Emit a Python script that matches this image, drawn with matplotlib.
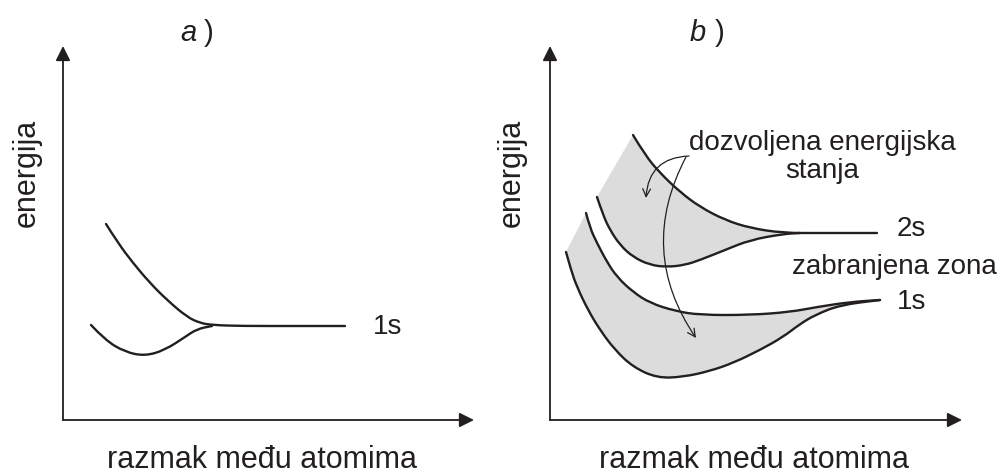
import matplotlib
matplotlib.use("Agg")
import matplotlib.pyplot as plt
from matplotlib.path import Path
from matplotlib.patches import PathPatch

plt.rcParams['font.family'] = ['Liberation Sans', 'DejaVu Sans']

# schematic curves (pixel units, y grows downwards)
a_upper_x = [106, 118, 133, 150, 167, 187, 200, 212, 240, 300, 345]
a_upper_y = [224, 243, 263, 283, 300, 317, 323, 325, 326, 326, 326]
a_lower_x = [91, 105, 125, 145, 165, 185, 197, 212]
a_lower_y = [325, 340, 352, 356, 350, 337, 329, 326]

b2_upper_x = [633, 645, 660, 680, 700, 725, 750, 783, 820, 877]
b2_upper_y = [135, 155, 173, 192, 207, 220, 228, 233, 233, 233]
b2_lower_x = [597, 603, 610, 620, 633, 650, 667, 685, 700, 725, 750, 783, 800]
b2_lower_y = [197, 215, 230, 245, 257, 265, 267, 265, 260, 250, 240, 234, 233]

b1_upper_x = [586, 590, 597, 607, 617, 633, 650, 675, 700, 750, 790, 817, 850, 880]
b1_upper_y = [213, 228, 243, 262, 277, 292, 303, 311, 315, 315, 312, 307, 302, 300]
b1_lower_x = [566, 571, 577, 588, 600, 615, 633, 657, 683, 710, 733, 760, 783, 800, 815, 840, 880]
b1_lower_y = [252, 270, 287, 310, 330, 350, 367, 378, 377, 371, 363, 350, 337, 324, 315, 305, 300]

x_label = "razmak među atomima"
y_label = "energija"
panel_labels = ["a", "b"]
level_labels = ["1s", "2s"]
allowed_text = "dozvoljena energijska\nstanja"
gap_text = "zabranjena zona"

INK = "#231f20"
GRAY = "#dcdcdc"


def smooth_path(xs, ys):
    """quadratic bezier through midpoints -> smooth line"""
    pts = list(zip(xs, ys))
    verts = [pts[0]]
    codes = [Path.MOVETO]
    for i in range(1, len(pts) - 1):
        mid = ((pts[i][0] + pts[i + 1][0]) / 2, (pts[i][1] + pts[i + 1][1]) / 2)
        verts += [pts[i], mid]
        codes += [Path.CURVE3, Path.CURVE3]
    verts.append(pts[-1])
    codes.append(Path.LINETO)
    return verts, codes


def draw_curve(ax, xs, ys):
    v, c = smooth_path(xs, ys)
    ax.add_patch(PathPatch(Path(v, c), fill=False, lw=1.7, edgecolor=INK,
                           capstyle='round', zorder=3))


def fill_band(ax, ux, uy, lx, ly):
    v1, c1 = smooth_path(ux, uy)
    v2, c2 = smooth_path(lx[::-1], ly[::-1])
    c2 = [Path.LINETO] + c2[1:]
    verts = v1 + v2 + [v1[0]]
    codes = c1 + c2 + [Path.CLOSEPOLY]
    ax.add_patch(PathPatch(Path(verts, codes), facecolor=GRAY, edgecolor='none', zorder=1))


def draw_axes(ax, x0, y0, x_tip, y_tip):
    arrow = dict(arrowstyle='-|>', mutation_scale=22, lw=1.3, color=INK,
                 shrinkA=0, shrinkB=0)
    ax.annotate('', xy=(x0, y_tip), xytext=(x0, y0), arrowprops=arrow)
    ax.annotate('', xy=(x_tip, y0), xytext=(x0, y0), arrowprops=arrow)


fig = plt.figure(figsize=(10, 4.75), dpi=100)
ax = fig.add_axes([0, 0, 1, 1])
ax.set_xlim(0, 1000)
ax.set_ylim(475, 0)
ax.axis('off')

# panel a
draw_axes(ax, 63, 420, 474, 46)
draw_curve(ax, a_upper_x, a_upper_y)
draw_curve(ax, a_lower_x, a_lower_y)
ax.text(373, 327, level_labels[0], fontsize=20, color=INK, va='center')
ax.text(188, 33, panel_labels[0], fontsize=21, style='italic', color=INK, ha='center', va='center')
ax.text(209, 33, ")", fontsize=21, color=INK, ha='center', va='center')
ax.text(262, 468, x_label, fontsize=22, color=INK, ha='center', va='baseline')
ax.text(27, 173, y_label, fontsize=22, color=INK, rotation=90, ha='center', va='center')

# panel b
draw_axes(ax, 550, 420, 962, 46)
fill_band(ax, b2_upper_x, b2_upper_y, b2_lower_x, b2_lower_y)
fill_band(ax, b1_upper_x, b1_upper_y, b1_lower_x, b1_lower_y)
for xs, ys in [(b2_upper_x, b2_upper_y), (b2_lower_x, b2_lower_y),
               (b1_upper_x, b1_upper_y), (b1_lower_x, b1_lower_y)]:
    draw_curve(ax, xs, ys)
ax.text(897, 229, level_labels[1], fontsize=20, color=INK, va='center')
ax.text(897, 302, level_labels[0], fontsize=20, color=INK, va='center')
ax.text(894, 267, gap_text, fontsize=20, color=INK, ha='center', va='center')
ax.text(822, 157, allowed_text, fontsize=20, color=INK, ha='center', va='center',
        linespacing=1.15)
ax.text(698, 33, panel_labels[1], fontsize=21, style='italic', color=INK, ha='center', va='center')
ax.text(720, 33, ")", fontsize=21, color=INK, ha='center', va='center')
ax.text(754, 468, x_label, fontsize=22, color=INK, ha='center', va='baseline')
ax.text(512, 173, y_label, fontsize=22, color=INK, rotation=90, ha='center', va='center')

thin = dict(arrowstyle='->', mutation_scale=14, lw=0.9, color=INK, shrinkA=0, shrinkB=0)
ax.annotate('', xy=(646, 198), xytext=(689, 156),
            arrowprops=dict(thin, connectionstyle='arc3,rad=0.45'), zorder=5)
ax.annotate('', xy=(696, 338), xytext=(686, 157),
            arrowprops=dict(thin, connectionstyle='arc3,rad=0.3'), zorder=5)

fig.savefig("out.png", dpi=100)
